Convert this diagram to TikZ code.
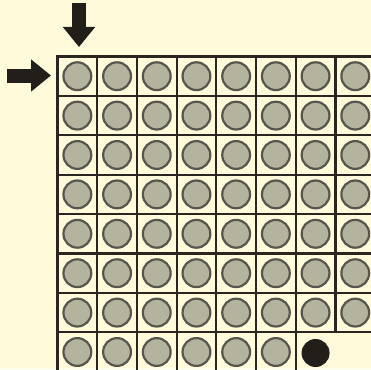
\documentclass[tikz,border=0pt]{standalone}
\usetikzlibrary{arrows.meta}
\definecolor{paper}{HTML}{FFFBDA}
\definecolor{gridline}{HTML}{2A2520}
\definecolor{disc}{HTML}{B4B39D}
\definecolor{discrim}{HTML}{57564E}
\definecolor{ink}{HTML}{221E1A}
\tikzset{
  gridstroke/.style={draw=gridline, line width=2.2pt},
  hole/.style={circle, draw=discrim, fill=disc, line width=2.2pt, minimum size=27.8pt, inner sep=0pt},
  filled/.style={circle, fill=ink, minimum size=28pt, inner sep=0pt},
  bigarrow/.style={draw=ink, line width=14pt, -{Triangle[width=31pt,length=20pt]}}
}
\begin{document}
\begin{tikzpicture}[x=1pt,y=-1pt]
\fill[paper] (0,0) rectangle (371,369);
\useasboundingbox (0,0) rectangle (371,369);

\def\cx{39.7}
\def\cy{39.4}
% vertical lines
\foreach \i in {0,...,6}
  \draw[gridstroke] (57.5+\i*\cx,56.5) -- (57.5+\i*\cx,372);
\draw[gridstroke] (57.5+7*\cx,56.5) -- (57.5+7*\cx,56.5+7*\cy);
% horizontal lines
\foreach \j in {0,...,7}
  \draw[gridstroke] (56.4,56.5+\j*\cy) -- (372,56.5+\j*\cy);

% holes
\foreach \r in {1,...,7}
  \foreach \c in {1,...,8}
    \node[hole] (d-\r-\c) at (57.5+\c*\cx-\cx/2,56.5+\r*\cy-\cy/2) {};
\foreach \c in {1,...,6}
  \node[hole] (d-8-\c) at (57.5+\c*\cx-\cx/2,56.5+8*\cy-\cy/2) {};
\node[filled] (d-8-7) at (57.5+7*\cx-\cx/2,57.5+8*\cy-\cy/2) {};

% pointers
\coordinate (downtail) at (79,3.5);
\coordinate (downtip) at (79,47);
\coordinate (lefttail) at (7,75.5);
\coordinate (lefttip) at (51,75.5);
\draw[bigarrow] (downtail) -- (downtip);
\draw[bigarrow] (lefttail) -- (lefttip);
\end{tikzpicture}
\end{document}
